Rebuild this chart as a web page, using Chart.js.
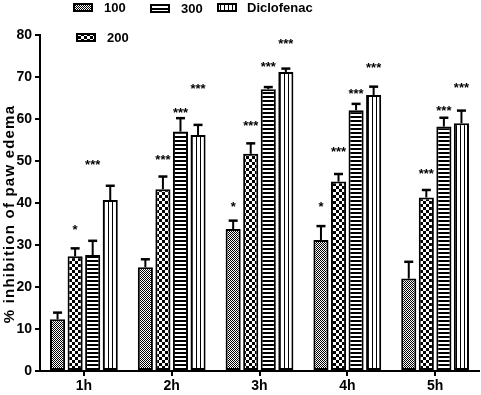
<!DOCTYPE html>
<html lang="en">
<head>
    <meta charset="UTF-8">
    <title>% inhibition of paw edema</title>
    <script src="https://cdn.jsdelivr.net/npm/chart.js"></script>
    <style>
        html, body { margin: 0; padding: 0; background: #fff; }
        #wrap { width: 481px; height: 395px; }
    </style>
</head>
<body>
    <div id="wrap"><canvas id="chart"></canvas></div>

    <script>
        // categories and series (mean values)
        var labels = ['1h', '2h', '3h', '4h', '5h'];
        var dose100 = [12.3, 24.7, 33.8, 31.2, 22.0];
        var dose200 = [27.3, 43.3, 51.7, 45.1, 41.3];
        var dose300 = [27.6, 57.0, 67.1, 62.1, 58.2];
        var diclofenac = [40.7, 56.2, 71.2, 65.7, 59.0];

        // upper error (SEM)
        var err100 = [1.6, 1.9, 2.0, 3.3, 4.0];
        var err200 = [1.9, 3.0, 2.5, 1.8, 1.8];
        var err300 = [3.4, 3.2, 0.5, 1.5, 2.1];
        var errDic = [3.4, 2.4, 0.8, 2.0, 3.0];

        // significance marks and the value they sit at
        var sig100 = ['', '', '*', '*', ''];
        var sig100At = [null, null, 39.9, 39.8, null];
        var sig200 = ['*', '***', '***', '***', '***'];
        var sig200At = [34.3, 51.0, 59.2, 52.9, 47.7];
        var sig300 = ['***', '***', '***', '***', '***'];
        var sig300At = [50.0, 62.3, 73.3, 66.7, 62.8];
        var sigDic = ['', '***', '***', '***', '***'];
        var sigDicAt = [null, 67.9, 78.6, 73.0, 68.1];

        var yTicks = [0, 10, 20, 30, 40, 50, 60, 70, 80];
        var yTitle = '% inhibition of paw edema';

        var FONT = '"Liberation Sans", Arial, sans-serif';

        // fill patterns
        function makePattern(w, h, draw) {
            var c = document.createElement('canvas');
            c.width = w; c.height = h;
            var g = c.getContext('2d');
            g.fillStyle = '#fff';
            g.fillRect(0, 0, w, h);
            g.fillStyle = '#000';
            draw(g);
            return document.getElementById('chart').getContext('2d').createPattern(c, 'repeat');
        }
        var patFine = makePattern(2, 2, function(g) {
            g.fillRect(0, 0, 1, 1);
            g.fillRect(1, 1, 1, 1);
        });
        var patChecker = makePattern(6, 6, function(g) {
            g.fillRect(0, 0, 3, 3);
            g.fillRect(3, 3, 3, 3);
        });
        var patHoriz = makePattern(4, 4, function(g) {
            g.fillRect(0, 0, 4, 2);
        });
        var patVert = makePattern(4, 4, function(g) {
            g.fillRect(0, 0, 1, 4);
        });

        var series = [
            { label: '100', data: dose100, err: err100, sig: sig100, sigAt: sig100At, pat: patFine },
            { label: '200', data: dose200, err: err200, sig: sig200, sigAt: sig200At, pat: patChecker },
            { label: '300', data: dose300, err: err300, sig: sig300, sigAt: sig300At, pat: patHoriz },
            { label: 'Diclofenac', data: diclofenac, err: errDic, sig: sigDic, sigAt: sigDicAt, pat: patVert }
        ];

        // error bars + stars
        var extras = {
            id: 'extras',
            afterDatasetsDraw: function(chart) {
                var ctx = chart.ctx;
                var y = chart.scales.y;
                ctx.save();
                ctx.strokeStyle = '#000';
                ctx.fillStyle = '#000';
                series.forEach(function(s, di) {
                    var meta = chart.getDatasetMeta(di);
                    meta.data.forEach(function(bar, i) {
                        var top = y.getPixelForValue(s.data[i] + s.err[i]);
                        ctx.lineWidth = 2;
                        ctx.beginPath();
                        ctx.moveTo(bar.x, bar.y);
                        ctx.lineTo(bar.x, top);
                        ctx.stroke();
                        ctx.lineWidth = 2.5;
                        ctx.beginPath();
                        ctx.moveTo(bar.x - 4.5, top);
                        ctx.lineTo(bar.x + 4.5, top);
                        ctx.stroke();
                        if (s.sig[i]) {
                            ctx.font = 'bold 13px ' + FONT;
                            ctx.textAlign = 'center';
                            ctx.textBaseline = 'alphabetic';
                            ctx.fillText(s.sig[i], bar.x, y.getPixelForValue(s.sigAt[i]) + 7.5);
                        }
                    });
                });
                ctx.restore();
            }
        };

        // legend at the top + y title, drawn by hand like the original
        var legendSpots = [
            { sx: 73, sy: 3, tx: 104 },
            { sx: 76, sy: 33, tx: 107 },
            { sx: 150, sy: 4, tx: 181 },
            { sx: 217, sy: 3, tx: 247 }
        ];
        var topLegend = {
            id: 'topLegend',
            afterDraw: function(chart) {
                var ctx = chart.ctx;
                ctx.save();
                series.forEach(function(s, i) {
                    var p = legendSpots[i];
                    ctx.fillStyle = s.pat;
                    ctx.fillRect(p.sx, p.sy, 20, 9);
                    ctx.strokeStyle = '#000';
                    ctx.lineWidth = 2;
                    ctx.strokeRect(p.sx + 1, p.sy + 1, 18, 7);
                    ctx.fillStyle = '#000';
                    ctx.font = 'bold 13px ' + FONT;
                    ctx.textAlign = 'left';
                    ctx.textBaseline = 'middle';
                    ctx.fillText(s.label, p.tx, p.sy + 5);
                });
                // rotated axis title
                ctx.translate(10, 214);
                ctx.rotate(-Math.PI / 2);
                ctx.font = 'bold 15px ' + FONT;
                ctx.letterSpacing = '1.2px';
                ctx.textAlign = 'center';
                ctx.textBaseline = 'middle';
                ctx.fillText(yTitle, 0, 0);
                ctx.restore();
            }
        };

        var ctx = document.getElementById('chart').getContext('2d');
        var chart = new Chart(ctx, {
            type: 'bar',
            data: {
                labels: labels,
                datasets: series.map(function(s) {
                    return {
                        label: s.label,
                        data: s.data,
                        backgroundColor: s.pat,
                        borderColor: '#000',
                        borderWidth: 2,
                        borderSkipped: false,
                        categoryPercentage: 0.8,
                        barPercentage: 0.86
                    };
                })
            },
            options: {
                responsive: true,
                maintainAspectRatio: false,
                animation: false,
                layout: { padding: { top: 35, right: 2, left: 0, bottom: 0 } },
                plugins: {
                    legend: { display: false },
                    tooltip: { enabled: false }
                },
                scales: {
                    x: {
                        afterFit: function(s) { s.height = 24; },
                        grid: {
                            offset: false,
                            drawOnChartArea: false,
                            color: '#000',
                            lineWidth: 2,
                            tickLength: 5
                        },
                        border: { color: '#000', width: 2 },
                        ticks: {
                            color: '#000',
                            padding: 2,
                            font: { family: FONT, size: 14, weight: 'bold' }
                        }
                    },
                    y: {
                        min: 0,
                        max: 80,
                        afterFit: function(s) { s.width = 40; },
                        afterBuildTicks: function(s) {
                            s.ticks = yTicks.map(function(v) { return { value: v }; });
                        },
                        grid: {
                            drawOnChartArea: false,
                            color: '#000',
                            lineWidth: 2,
                            tickLength: 5
                        },
                        border: { color: '#000', width: 2 },
                        ticks: {
                            color: '#000',
                            padding: 3,
                            font: { family: FONT, size: 14, weight: 'bold' }
                        }
                    }
                }
            },
            plugins: [extras, topLegend]
        });
    </script>
</body>
</html>
